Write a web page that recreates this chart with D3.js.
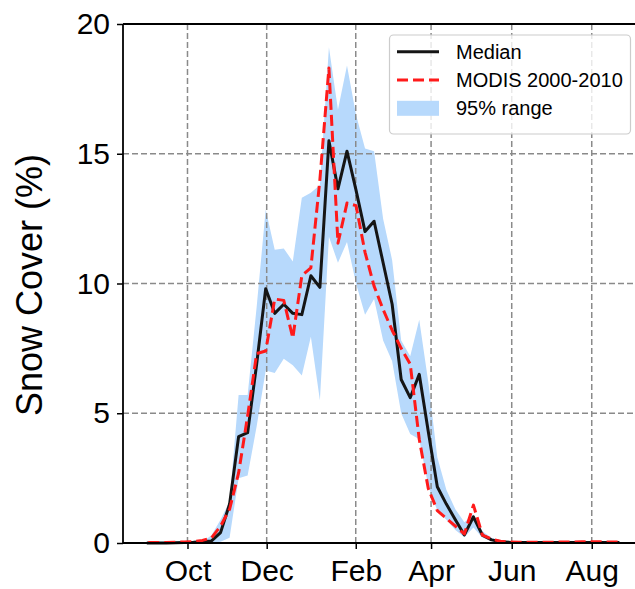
<!DOCTYPE html>
<html>
<head>
<meta charset="utf-8">
<script src="https://cdn.jsdelivr.net/npm/d3@7/dist/d3.min.js"></script>
<style>
  html, body { margin: 0; padding: 0; background: #fff; }
  svg { display: block; }
  text { font-family: "Liberation Sans", Arial, Helvetica, sans-serif; fill: #000; }
</style>
</head>
<body>
<svg id="chart" width="635" height="589"></svg>
<script>
// ---- data (week index 0..52) ----
const median = [0,0,0,0.01,0.02,0.03,0.05,0.08,0.4,1.5,4.1,4.25,6.9,9.8,8.85,9.2,8.85,8.8,10.3,9.85,
  15.5,13.65,15.1,13.6,12.0,12.4,10.8,9.2,6.3,5.6,6.5,4.3,2.17,1.5,0.9,0.31,1.01,0.3,0.12,0.05,
  0.03,0.02,0.02,0.02,0.02,0.02,0.02,0.02,0.02,0.02,0.02,0.02,0.02];
const modis = [0.02,0.02,0.02,0.03,0.04,0.05,0.1,0.2,0.65,1.3,2.7,4.9,7.3,7.4,9.4,9.35,7.9,10.3,10.6,14.0,
  18.3,11.55,13.1,13.0,11.2,9.9,9.0,8.2,7.5,6.9,4.0,2.1,1.25,0.95,0.65,0.35,1.46,0.3,0.15,0.07,
  0.04,0.03,0.03,0.03,0.03,0.03,0.04,0.04,0.05,0.05,0.05,0.04,0.04];
const upper = [0.05,0.05,0.05,0.05,0.05,0.05,0.05,0.3,0.9,1.6,5.7,5.7,9.1,12.85,11.3,11.35,10.85,13.3,13.5,13.8,
  19.1,16.7,18.4,16.5,15.2,15.1,12.5,10.9,7.8,7.2,8.6,6.2,3.3,2.05,1.3,0.8,1.1,0.45,0.2,0.1,
  0.06,0.06,0.06,0.06,0.06,0.06,0.06,0.06,0.06,0.06,0.06,0.06,0.06];
const lower = [0,0,0,0,0,0,0,0,0.05,0.2,2.5,2.6,4.5,6.65,6.55,7.1,6.85,6.45,7.95,5.5,
  11.8,10.8,11.6,10.0,8.8,9.4,7.8,7.0,5.0,4.2,4.0,2.2,1.25,0.9,0.5,0.22,0.6,0.2,0.08,0,
  0,0,0,0,0,0,0,0,0,0,0,0,0];
const monthLabels = ["Oct","Dec","Feb","Apr","Jun","Aug"];
const monthPos = [4.34, 13.11, 22.97, 31.31, 40.24, 49.10];
const yTicks = [0,5,10,15,20];
const legendLabels = ["Median","MODIS 2000-2010","95% range"];

// ---- layout ----
const L = 123, R = 636, T = 24, B = 543;
const svg = d3.select("#chart");
const x = d3.scaleLinear().domain([-2.8, 54.0]).range([L, R]);
const y = d3.scaleLinear().domain([0, 20]).range([B, T]);

const idx = d3.range(median.length);
const cBlue = "#b7d9fc", cRed = "#ff1a1a", cBlack = "#151515", cGrid = "#8a8a8a";

// band
svg.append("path")
  .attr("fill", cBlue)
  .attr("d", d3.area().x(i => x(i)).y0(i => y(lower[i])).y1(i => y(upper[i]))(idx));

// grid
const grid = svg.append("g");
monthPos.forEach(v => grid.append("line")
  .attr("x1", x(v)).attr("x2", x(v)).attr("y1", T).attr("y2", B));
yTicks.filter(v => v > 0 && v < 20).forEach(v => grid.append("line")
  .attr("x1", L).attr("x2", R).attr("y1", y(v)).attr("y2", y(v)));
grid.selectAll("line").attr("stroke", cGrid).attr("stroke-width", 1.5).attr("stroke-dasharray", "6,3");

// lines
const line = d3.line().x(i => x(i));
svg.append("path")
  .attr("fill", "none").attr("stroke", cBlack).attr("stroke-width", 3)
  .attr("stroke-linejoin", "round").attr("stroke-linecap", "square")
  .attr("d", line.y(i => y(median[i]))(idx));
svg.append("path")
  .attr("fill", "none").attr("stroke", cRed).attr("stroke-width", 3)
  .attr("stroke-linejoin", "round").attr("stroke-dasharray", "11,5")
  .attr("d", line.y(i => y(modis[i]))(idx));

// axes
const yAxis = svg.append("g").attr("transform", `translate(${L},0)`)
  .call(d3.axisLeft(y).tickValues(yTicks).tickSize(6).tickPadding(7).tickFormat(d3.format("d")));
const xAxis = svg.append("g").attr("transform", `translate(0,${B})`)
  .call(d3.axisBottom(x).tickValues(monthPos).tickSize(6).tickPadding(11)
    .tickFormat((d, i) => monthLabels[i]));
[yAxis, xAxis].forEach(g => {
  g.select(".domain").remove();
  g.selectAll(".tick line").attr("stroke", "#000").attr("stroke-width", 1.5);
  g.selectAll(".tick text").style("font-size", "30px").attr("fill", "#000");
});

// spines
svg.append("line").attr("x1", L).attr("x2", L).attr("y1", T).attr("y2", B)
  .attr("stroke", "#000").attr("stroke-width", 1.8);
svg.append("line").attr("x1", L).attr("x2", R).attr("y1", T).attr("y2", T)
  .attr("stroke", "#000").attr("stroke-width", 1.8);
svg.append("line").attr("x1", L).attr("x2", R).attr("y1", B).attr("y2", B)
  .attr("stroke", "#000").attr("stroke-width", 1.8);

// y label
svg.append("text")
  .attr("transform", "translate(42,285) rotate(-90)")
  .attr("text-anchor", "middle")
  .style("font-size", "36px")
  .text("Snow Cover (%)");

// legend
const lg = svg.append("g");
lg.append("rect").attr("x", 389.5).attr("y", 35).attr("width", 241).attr("height", 99)
  .attr("rx", 4).attr("fill", "#fff").attr("fill-opacity", 0.8)
  .attr("stroke", "#cccccc").attr("stroke-width", 1.2);
const rows = [51.7, 80, 108.3];
lg.append("line").attr("x1", 397).attr("x2", 439).attr("y1", rows[0]).attr("y2", rows[0])
  .attr("stroke", cBlack).attr("stroke-width", 3);
lg.append("line").attr("x1", 397).attr("x2", 439).attr("y1", rows[1]).attr("y2", rows[1])
  .attr("stroke", cRed).attr("stroke-width", 3).attr("stroke-dasharray", "11,5");
lg.append("rect").attr("x", 397).attr("y", rows[2] - 7.5).attr("width", 42).attr("height", 15)
  .attr("fill", cBlue);
legendLabels.forEach((t, i) => lg.append("text")
  .attr("x", 456).attr("y", rows[i]).attr("dy", "0.35em")
  .style("font-size", "20px").text(t));
</script>
</body>
</html>
